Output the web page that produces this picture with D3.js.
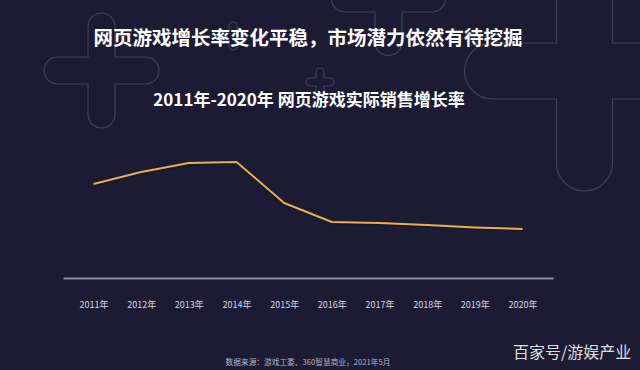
<!DOCTYPE html>
<html><head><meta charset="utf-8">
<script src="https://cdn.jsdelivr.net/npm/d3@7/dist/d3.min.js"></script>
<style>
html,body{margin:0;padding:0;background:#1d1b33;}
svg{display:block;}
</style></head>
<body>
<script>
const years = ["2011年","2012年","2013年","2014年","2015年","2016年","2017年","2018年","2019年","2020年"];
const growth = [31.6, 46.6, 57.8, 59.0, 8.0, -15.6, -16.9, -19.4, -22.5, -24.3];
const titleText = "网页游戏增长率变化平稳，市场潜力依然有待挖掘";
const subtitleText = "2011年-2020年 网页游戏实际销售增长率";
const sourceText = "数据来源：游戏工委、360智慧商业，2021年5月";
const watermarkText = "百家号/游娱产业";

const W = 640, H = 370;
const font = "'Noto Sans CJK SC','Noto Sans',sans-serif";
const svg = d3.select("body").append("svg").attr("width", W).attr("height", H);
svg.append("rect").attr("width", W).attr("height", H).attr("fill", "#1d1b33");

// decorative plus outlines
function plusPath(cx, cy, L, w) {
  return `M${cx-w},${cy-L+w} A${w},${w} 0 0 1 ${cx+w},${cy-L+w} L${cx+w},${cy-w} L${cx+L-w},${cy-w}
  A${w},${w} 0 0 1 ${cx+L-w},${cy+w} L${cx+w},${cy+w} L${cx+w},${cy+L-w}
  A${w},${w} 0 0 1 ${cx-w},${cy+L-w} L${cx-w},${cy+w} L${cx-L+w},${cy+w}
  A${w},${w} 0 0 1 ${cx-L+w},${cy-w} L${cx-w},${cy-w} Z`;
}
const deco = svg.append("g").attr("fill", "none").attr("stroke", "#3a4259").attr("stroke-width", 1.2);
deco.append("path").attr("d", plusPath(101.5, 70.5, 57.5, 13.5));
deco.append("path").attr("d", plusPath(388.5, -1.5, 57, 13.5));
deco.append("path").attr("d", plusPath(584.5, 71, 120, 28));
deco.append("path").attr("d", plusPath(233, 36, 14, 4));
deco.append("path").attr("d", plusPath(320, 82, 14, 4));

// titles
svg.append("text").attr("x", 308).attr("y", 44.5).attr("text-anchor", "middle")
  .attr("font-family", font).attr("font-weight", "bold").attr("font-size", 19.5)
  .attr("fill", "#ffffff").text(titleText);
svg.append("text").attr("x", 309).attr("y", 106).attr("text-anchor", "middle")
  .attr("font-family", font).attr("font-weight", "bold").attr("font-size", 17)
  .attr("fill", "#ffffff").text(subtitleText);

// scales
const x = d3.scalePoint().domain(years).range([63, 553]).padding(0.64);
const y = d3.scaleLinear().domain([-84, 100]).range([277, 129]);

// axis
const axis = svg.append("g").attr("transform", `translate(0,${y(-84) + 1})`)
  .call(d3.axisBottom(x).tickSize(0).tickPadding(24));
axis.select(".domain").attr("stroke", "#8d8aa5").attr("stroke-width", 2);
axis.selectAll("text").attr("font-family", font).attr("font-size", 9).attr("fill", "#d6d6e0");

// line
const line = d3.line().x((d, i) => x(years[i])).y(d => y(d));
svg.append("path").datum(growth).attr("d", line)
  .attr("fill", "none").attr("stroke", "#14121f").attr("stroke-width", 3.5).attr("opacity", 0.5)
  .attr("transform", "translate(0,1)");
svg.append("path").datum(growth).attr("d", line)
  .attr("fill", "none").attr("stroke", "#e8b04a").attr("stroke-width", 2).attr("stroke-linejoin", "round");

// source
svg.append("text").attr("x", 308).attr("y", 365).attr("text-anchor", "middle")
  .attr("font-family", font).attr("font-size", 7.7).attr("fill", "#b4b3c4").text(sourceText);

// watermark
svg.append("text").attr("x", 513).attr("y", 358)
  .attr("font-family", font).attr("font-size", 16).attr("fill", "#ffffff").attr("opacity", 0.85)
  .text(watermarkText);
</script>
</body></html>
